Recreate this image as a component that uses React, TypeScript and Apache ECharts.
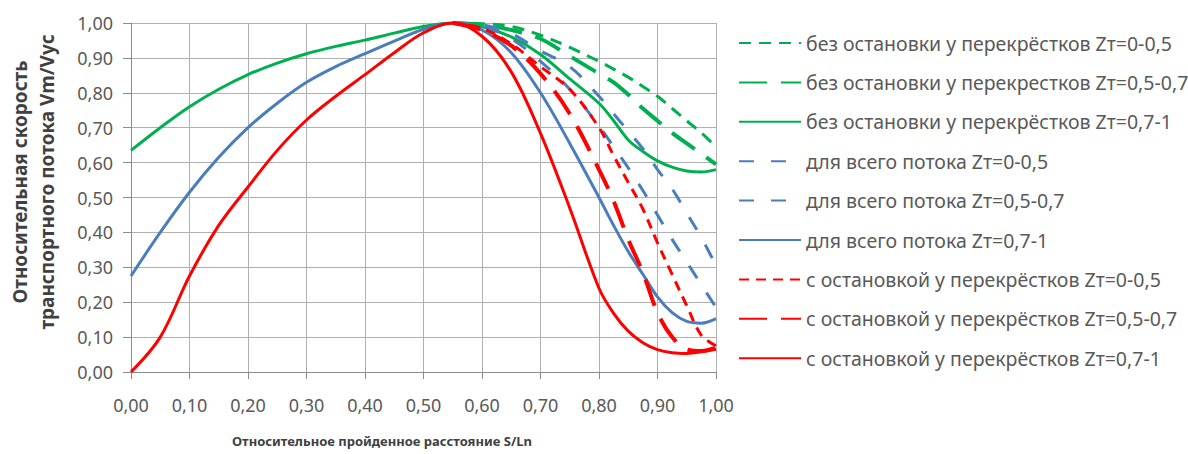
import React, { useEffect, useRef } from "react";
import * as echarts from "echarts";

const xValues = [0, 0.05, 0.1, 0.15, 0.2, 0.25, 0.3, 0.35, 0.4, 0.45, 0.5, 0.55, 0.6, 0.65, 0.7, 0.75, 0.8, 0.825, 0.85, 0.875, 0.9, 0.925, 0.95, 0.975, 1];

const N = null;
const greenShort = [N, N, N, N, N, N, N, N, N, N, N, 1.0, 0.998, 0.99, 0.965, 0.93, 0.89, 0.868, 0.845, 0.818, 0.79, 0.755, 0.72, 0.685, 0.645];
const greenLong = [N, N, N, N, N, N, N, N, N, N, N, 1.0, 0.995, 0.98, 0.955, 0.905, 0.855, 0.83, 0.795, 0.755, 0.72, 0.685, 0.655, 0.625, 0.595];
const greenSolid = [0.635, 0.7, 0.76, 0.81, 0.852, 0.885, 0.912, 0.933, 0.951, 0.971, 0.99, 1.0, 0.99, 0.96, 0.91, 0.84, 0.77, 0.72, 0.665, 0.632, 0.605, 0.587, 0.576, 0.573, 0.58];
const blueShort = [N, N, N, N, N, N, N, N, N, N, N, 1.0, 0.995, 0.97, 0.92, 0.875, 0.79, 0.74, 0.69, 0.64, 0.58, 0.525, 0.455, 0.385, 0.305];
const blueLong = [N, N, N, N, N, N, N, N, N, N, N, 1.0, 0.99, 0.955, 0.89, 0.81, 0.705, 0.645, 0.585, 0.52, 0.45, 0.38, 0.315, 0.25, 0.185];
const blueSolid = [0.275, 0.4, 0.515, 0.615, 0.7, 0.77, 0.83, 0.875, 0.912, 0.948, 0.982, 1.0, 0.98, 0.915, 0.8, 0.655, 0.5, 0.42, 0.345, 0.28, 0.215, 0.17, 0.145, 0.14, 0.153];
const redShort = [N, N, N, N, N, N, N, N, N, N, N, 1.0, 0.985, 0.94, 0.875, 0.81, 0.7, 0.62, 0.543, 0.467, 0.37, 0.28, 0.19, 0.105, 0.075];
const redLong = [N, N, N, N, N, N, N, N, N, N, N, 1.0, 0.98, 0.935, 0.855, 0.74, 0.58, 0.49, 0.38, 0.285, 0.17, 0.1, 0.065, 0.06, 0.07];
const redSolid = [0, 0.1, 0.275, 0.42, 0.53, 0.635, 0.722, 0.79, 0.852, 0.915, 0.972, 1.0, 0.962, 0.86, 0.684, 0.47, 0.24, 0.168, 0.117, 0.084, 0.064, 0.055, 0.053, 0.058, 0.065];

const seriesNames = [
  "без остановки у перекрёстков Zт=0-0,5",
  "без остановки у перекрестков Zт=0,5-0,7",
  "без остановки у перекрёстков Zт=0,7-1",
  "для всего потока Zт=0-0,5",
  "для всего потока Zт=0,5-0,7",
  "для всего потока Zт=0,7-1",
  "с остановкой у перекрёстков Zт=0-0,5",
  "с остановкой у перекрёстков Zт=0,5-0,7",
  "с остановкой у перекрёстков Zт=0,7-1",
];
const seriesValues = [greenShort, greenLong, greenSolid, blueShort, blueLong, blueSolid, redShort, redLong, redSolid];

const yTitle = "Относительная скорость\nтранспортного потока Vm/Vyc";
const xTitle = "Относительное пройденное расстояние S/Ln";

const GREEN = "#00B050";
const BLUE = "#4A7EBB";
const RED = "#FF0000";
const styles: { color: string; width: number; type: any }[] = [
  { color: GREEN, width: 3, type: [12, 8] },
  { color: GREEN, width: 4, type: [28, 14] },
  { color: GREEN, width: 3, type: "solid" },
  { color: BLUE, width: 3, type: [15, 17] },
  { color: BLUE, width: 3, type: [15, 17] },
  { color: BLUE, width: 3, type: "solid" },
  { color: RED, width: 3, type: [10, 7] },
  { color: RED, width: 4, type: [28, 14] },
  { color: RED, width: 3, type: "solid" },
];

const FONT = "'Noto Sans', 'Liberation Sans', sans-serif";
const fmt = (v: number) => v.toFixed(2).replace(".", ",");

export default function App() {
  const ref = useRef<HTMLDivElement>(null);
  useEffect(() => {
    document.body.style.margin = "0";
    const chart = echarts.init(ref.current!, null, { renderer: "svg" });
    const series = seriesNames.map((name, i) => ({
      name,
      type: "line",
      smooth: 0.35,
      symbol: "none",
      data: xValues
        .map((x, j) => [x, seriesValues[i][j]])
        .filter((p) => p[1] !== null),
      lineStyle: { color: styles[i].color, width: styles[i].width, type: styles[i].type },
      itemStyle: { color: styles[i].color },
    }));
    chart.setOption({
      animation: false,
      backgroundColor: "#ffffff",
      grid: { left: 131, right: 472, top: 23, bottom: 82 },
      xAxis: {
        type: "value",
        min: 0,
        max: 1,
        interval: 0.1,
        axisLine: { show: true, lineStyle: { color: "#8c8c8c", width: 1 } },
        axisTick: { show: true, length: 7, lineStyle: { color: "#8c8c8c" } },
        splitLine: { show: true, lineStyle: { color: "#b0b0b0", width: 1 } },
        axisLabel: { formatter: fmt, color: "#595959", fontSize: 18, fontFamily: FONT, margin: 24 },
      },
      yAxis: {
        type: "value",
        min: 0,
        max: 1,
        interval: 0.1,
        axisLine: { show: true, lineStyle: { color: "#8c8c8c", width: 1 } },
        axisTick: { show: true, length: 8, lineStyle: { color: "#8c8c8c" } },
        splitLine: { show: true, lineStyle: { color: "#b0b0b0", width: 1 } },
        axisLabel: { formatter: fmt, color: "#595959", fontSize: 18, fontFamily: FONT, margin: 18 },
      },
      legend: {
        orient: "vertical",
        left: 733,
        top: 27,
        itemWidth: 62,
        itemHeight: 14,
        itemGap: 17.4,
        itemStyle: { opacity: 0 },
        textStyle: { color: "#595959", fontSize: 19.5, fontFamily: FONT, lineHeight: 22 },
        data: seriesNames,
      },
      graphic: [
        {
          type: "text",
          x: 33,
          y: 182,
          rotation: Math.PI / 2,
          style: {
            text: yTitle,
            fill: "#404040",
            font: `bold 19px ${FONT}`,
            textAlign: "center",
            textVerticalAlign: "middle",
            align: "center",
            verticalAlign: "middle",
            lineHeight: 27,
          },
        },
        {
          type: "text",
          x: 382,
          y: 441,
          style: {
            text: xTitle,
            fill: "#404040",
            font: `bold 13px ${FONT}`,
            textAlign: "center",
            textVerticalAlign: "middle",
            align: "center",
            verticalAlign: "middle",
          },
        },
      ],
      series,
    });
    return () => chart.dispose();
  }, []);
  return <div ref={ref} style={{ width: 1188, height: 454 }} />;
}
